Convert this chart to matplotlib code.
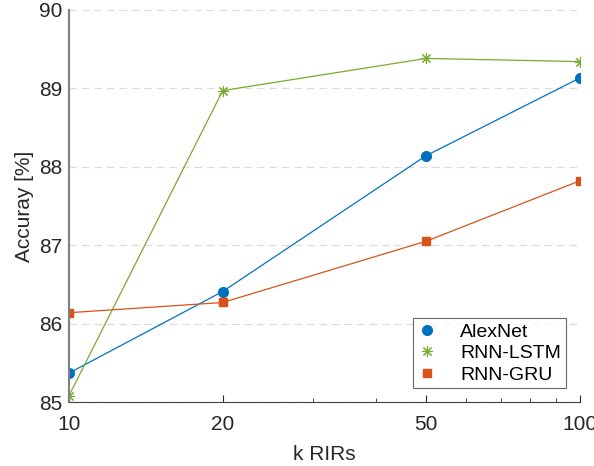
import matplotlib.pyplot as plt

plt.rcParams['font.family'] = ['Liberation Sans', 'DejaVu Sans']

k_rirs = [10, 20, 50, 100]
alexnet = [85.37, 86.41, 88.14, 89.13]
rnn_lstm = [85.08, 88.97, 89.38, 89.34]
rnn_gru = [86.14, 86.27, 87.05, 87.82]

fig = plt.figure(figsize=(5.94, 4.66), dpi=100)
ax = fig.add_axes([0.116, 0.137, 0.860, 0.842])

ax.plot(k_rirs, alexnet, color='#0072BD', lw=0.9, marker='o', ms=7, label='AlexNet')
ax.plot(k_rirs, rnn_lstm, color='#77AC30', lw=0.9, marker=(8, 2, 0), ms=8,
        markeredgewidth=0.8, label='RNN-LSTM')
ax.plot(k_rirs, rnn_gru, color='#D95319', lw=0.9, marker='s', ms=6, label='RNN-GRU')

ax.set_xscale('log')
ax.set_xlim(10, 100)
ax.set_ylim(85, 90)
ax.set_xticks(k_rirs)
ax.set_xticklabels([str(k) for k in k_rirs])
ax.set_yticks([85, 86, 87, 88, 89, 90])

ax.grid(axis='y', linestyle=(0, (6, 4)), color='#dcdcdc', lw=0.9)
ax.set_axisbelow(True)
for s in ['top', 'right']:
    ax.spines[s].set_visible(False)
ax.spines['bottom'].set_color('#404040')
ax.spines['bottom'].set_linewidth(0.8)
ax.spines['left'].set_color('#808080')
ax.spines['left'].set_linewidth(1.5)

ax.tick_params(axis='x', which='both', direction='in', colors='#262626', labelsize=15, pad=9)
ax.tick_params(axis='x', which='major', length=5)
ax.tick_params(axis='x', which='minor', length=3, labelbottom=False)
ax.tick_params(axis='y', length=0, colors='#262626', labelsize=15, pad=5)

ax.set_xlabel('k RIRs', fontsize=15, color='#262626', labelpad=8)
ax.set_ylabel('Accuray [%]', fontsize=15, color='#262626', labelpad=3)

leg = ax.legend(loc='lower right', bbox_to_anchor=(0.973, 0.035), fontsize=14,
                frameon=True, fancybox=False, edgecolor='#404040',
                borderpad=0.25, handlelength=1.0, handletextpad=1.2,
                labelspacing=0.2, borderaxespad=0)
leg.get_frame().set_linewidth(0.8)
for line in leg.get_lines():
    line.set_linestyle('none')

fig.savefig('out.png', dpi=100)
